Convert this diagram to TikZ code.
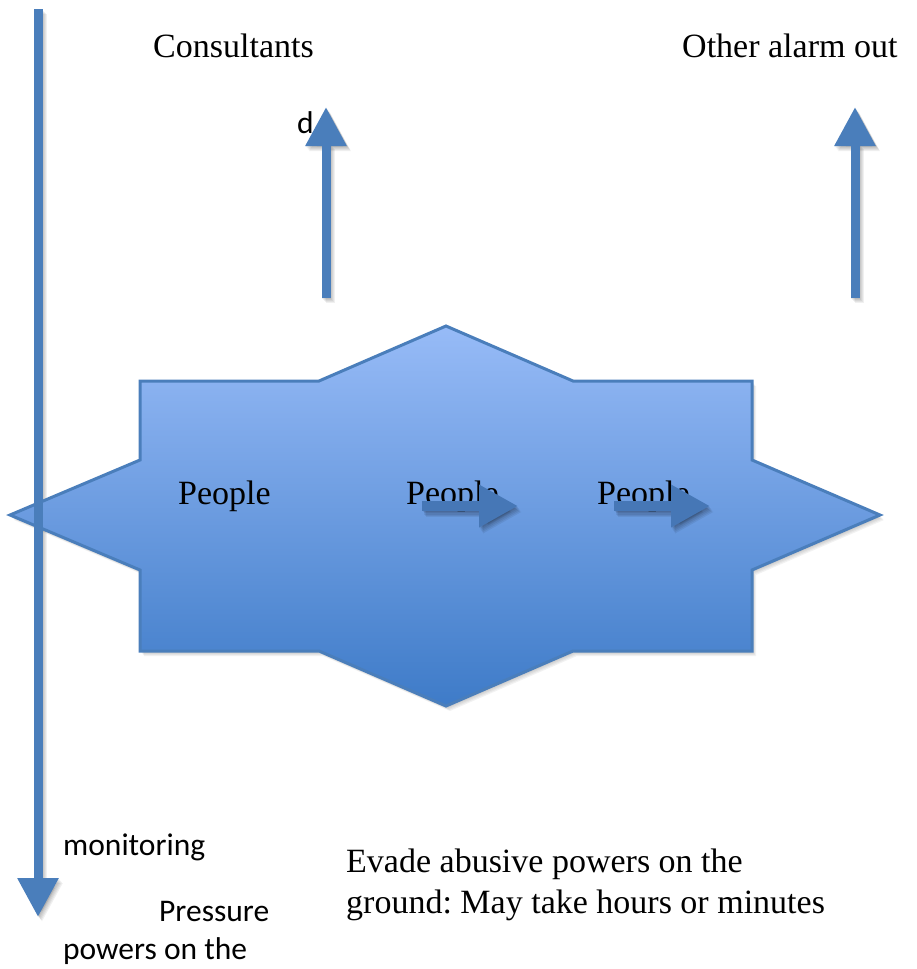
\documentclass[tikz,border=0pt]{standalone}
\usepackage{fontspec}
\setmainfont{Liberation Serif}
\newfontfamily\calibrifont{Carlito}
\usepackage{xcolor}
\usepackage{tikz}
\usetikzlibrary{arrows.meta}
\usetikzlibrary{calc}
\frenchspacing

\definecolor{arrowblue}{HTML}{4A7EBB}
\definecolor{innerblue}{HTML}{4677B6}
\definecolor{startop}{HTML}{97BBF7}
\definecolor{starbot}{HTML}{3E7BC8}

\newcommand{\starpath}{(140,381) -- (319,381) -- (446,326) -- (573,381) -- (752,381)
  -- (752,460) -- (880,515) -- (752,570) -- (752,651) -- (573,651) -- (446,706)
  -- (319,651) -- (140,651) -- (140,570) -- (10,515) -- (140,460) -- cycle}

\tikzset{
  longarrow/.style={draw=arrowblue,line width=9pt,-{Triangle[length=39pt,width=39pt]}},
  innerarrow/.style={draw=innerblue,line width=10pt,-{Triangle[length=39pt,width=40pt]}},
  softshadow/.style={draw=black,opacity=0.06},
  serifbox/.style={inner sep=0pt,font={\fontsize{34pt}{41pt}\selectfont}},
  sansbox/.style={inner sep=0pt,font={\calibrifont\fontsize{31.5pt}{38pt}\selectfont}},
}

\begin{document}
\begin{tikzpicture}[x=1pt,y=-1pt]
\useasboundingbox (0,0) rectangle (917,969);
		\coordinate (L1) at (38,9);
		\coordinate (L2) at (38,917);
		\coordinate (U1) at (326,298);
		\coordinate (U2) at (326,107);
		\coordinate (V1) at (855,298);
		\coordinate (V2) at (855,107);
		\coordinate (A1) at (422,506);
		\coordinate (A2) at (518,506);
		\coordinate (B1) at (614,506);
		\coordinate (B2) at (710,506);
		% soft shadows
		\foreach \k in {1,...,5}{
		\begin{scope}[transform canvas={shift={(0.8*\k pt,-1.0*\k pt)}}]
		\fill[black,opacity=0.05] \starpath;
		\draw[longarrow,softshadow] (L1) -- (L2);
		\draw[longarrow,softshadow] (U1) -- (U2);
		\draw[longarrow,softshadow] (V1) -- (V2);
		\end{scope}
		}
		% star
		\draw[draw=arrowblue,line width=3pt,line join=miter,top color=startop,bottom color=starbot] \starpath;
		\draw[longarrow] (L1) -- (L2);
		\draw[longarrow] (U1) -- (U2);
		\draw[longarrow] (V1) -- (V2);
		\node[serifbox,anchor=base west] (cons) at (153,57) {Consultants};
		\node[serifbox,anchor=base west] (other) at (682,57) {Other alarm out};
		\node[sansbox,anchor=base west] (d) at (297,133) {d};
		\node[serifbox,anchor=base west] (pa) at (178,504) {People};
		\node[serifbox,anchor=base west] (pb) at (406,504) {People};
		\node[serifbox,anchor=base west] (pc) at (597,504) {People};
		\foreach \k in {1,...,5}{
		\begin{scope}[transform canvas={shift={(0.8*\k pt,-1.2*\k pt)}}]
		\draw[innerarrow,softshadow,opacity=0.07] (A1) -- (A2);
		\draw[innerarrow,softshadow,opacity=0.07] (B1) -- (B2);
		\end{scope}
		}
		\draw[innerarrow] (A1) -- (A2);
		\draw[innerarrow] (B1) -- (B2);
		\node[sansbox,anchor=base west] (mon) at (63,855) {monitoring};
		\node[sansbox,anchor=base west] (pres) at (159,921) {Pressure};
		\node[sansbox,anchor=base west] (pow) at (63,959) {powers on the};
		\node[serifbox,align=left,anchor=north west] (evade) at (346,849)
			{Evade abusive powers on the\\ground: May take hours or minutes};
\end{tikzpicture}
\end{document}
